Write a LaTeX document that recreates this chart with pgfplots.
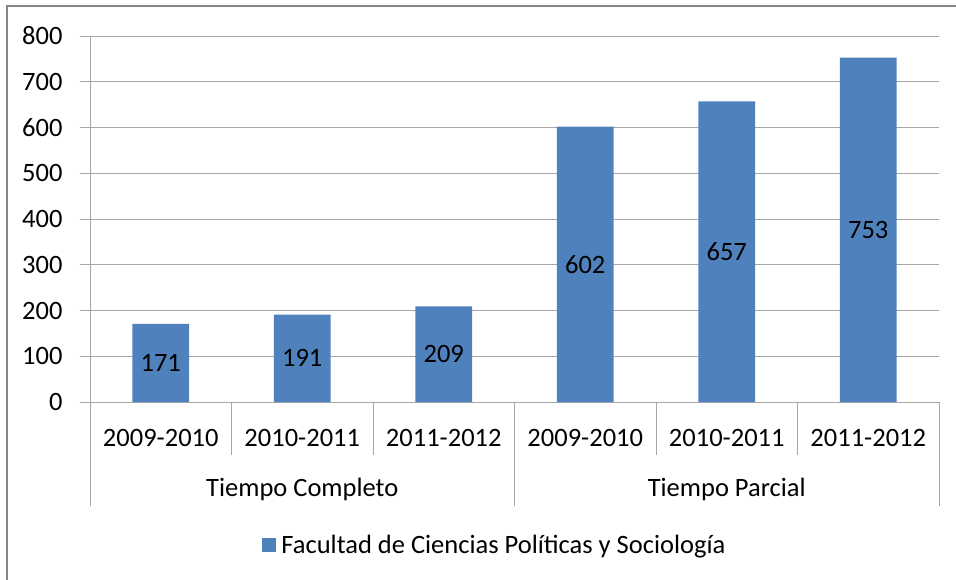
\documentclass[border=0pt]{standalone}
\usepackage{pgfplots}
\pgfplotsset{compat=1.18}
\usepackage{fontspec}
\setmainfont{Carlito}
\definecolor{barblue}{HTML}{4F81BD}
\definecolor{gridgray}{HTML}{A6A6A6}
\definecolor{framegray}{HTML}{868686}
\newcommand{\lbl}{\fontsize{26.5}{31}\selectfont}
\begin{document}
\begin{tikzpicture}
\useasboundingbox (0,0) rectangle (956pt,-580pt);
% chart frame (only top and left visible)
\draw[framegray, line width=2.5pt] (7pt,-580pt) -- (7pt,-6pt) -- (956pt,-6pt);
\begin{axis}[
    at={(90pt,-402pt)}, anchor=south west,
    scale only axis, width=849pt, height=366pt,
    clip=false,
    xmin=-0.5, xmax=5.5, ymin=0, ymax=800,
    ytick={0,100,...,800},
    xtick={0,...,5},
    xticklabels={2009-2010,2010-2011,2011-2012,2009-2010,2010-2011,2011-2012},
    axis x line*=bottom, axis y line*=left,
    axis line style={gridgray, line width=1pt, -},
    ymajorgrids, grid style={gridgray, line width=1pt},
    x tick style={draw=none},
    y tick style={gridgray, line width=1pt},
    tick align=outside, major tick length=10pt,
    tick label style={font=\lbl},
    /pgf/number format/assume math mode=true,
    xticklabel style={anchor=center, yshift=-26pt},
    yticklabel style={xshift=-14pt},
    ybar, bar width=0.4,
    nodes near coords,
    visualization depends on={y \as \rawy},
    every node near coord/.append style={font=\lbl, text=black, anchor=center,
        shift={(axis direction cs:0,-\rawy/2)}},
    legend image code/.code={\fill[barblue] (0pt,-7pt) rectangle (14pt,7pt);},
    legend style={draw=none, fill=none, font=\lbl, at={(0.477,-0.39)}, anchor=center},
]
\addplot[barblue, fill=barblue, draw=none] coordinates {
    (0,171) (1,191) (2,209) (3,602) (4,657) (5,753)
};
\legend{\hspace{3pt}Facultad de Ciencias Políticas y Sociología}
% category separators
\draw[gridgray, line width=1pt] (axis cs:0.5,0) -- ++(0pt,-53pt);
\draw[gridgray, line width=1pt] (axis cs:1.5,0) -- ++(0pt,-53pt);
\draw[gridgray, line width=1pt] (axis cs:3.5,0) -- ++(0pt,-53pt);
\draw[gridgray, line width=1pt] (axis cs:4.5,0) -- ++(0pt,-53pt);
\draw[gridgray, line width=1pt] (axis cs:-0.5,0) -- ++(0pt,-104pt);
\draw[gridgray, line width=1pt] (axis cs:2.5,0) -- ++(0pt,-104pt);
\draw[gridgray, line width=1pt] (axis cs:5.5,0) -- ++(0pt,-104pt);
\node[font=\lbl, yshift=-87pt] at (axis cs:1,0) {Tiempo Completo};
\node[font=\lbl, yshift=-87pt] at (axis cs:4,0) {Tiempo Parcial};
\end{axis}
\end{tikzpicture}
\end{document}
